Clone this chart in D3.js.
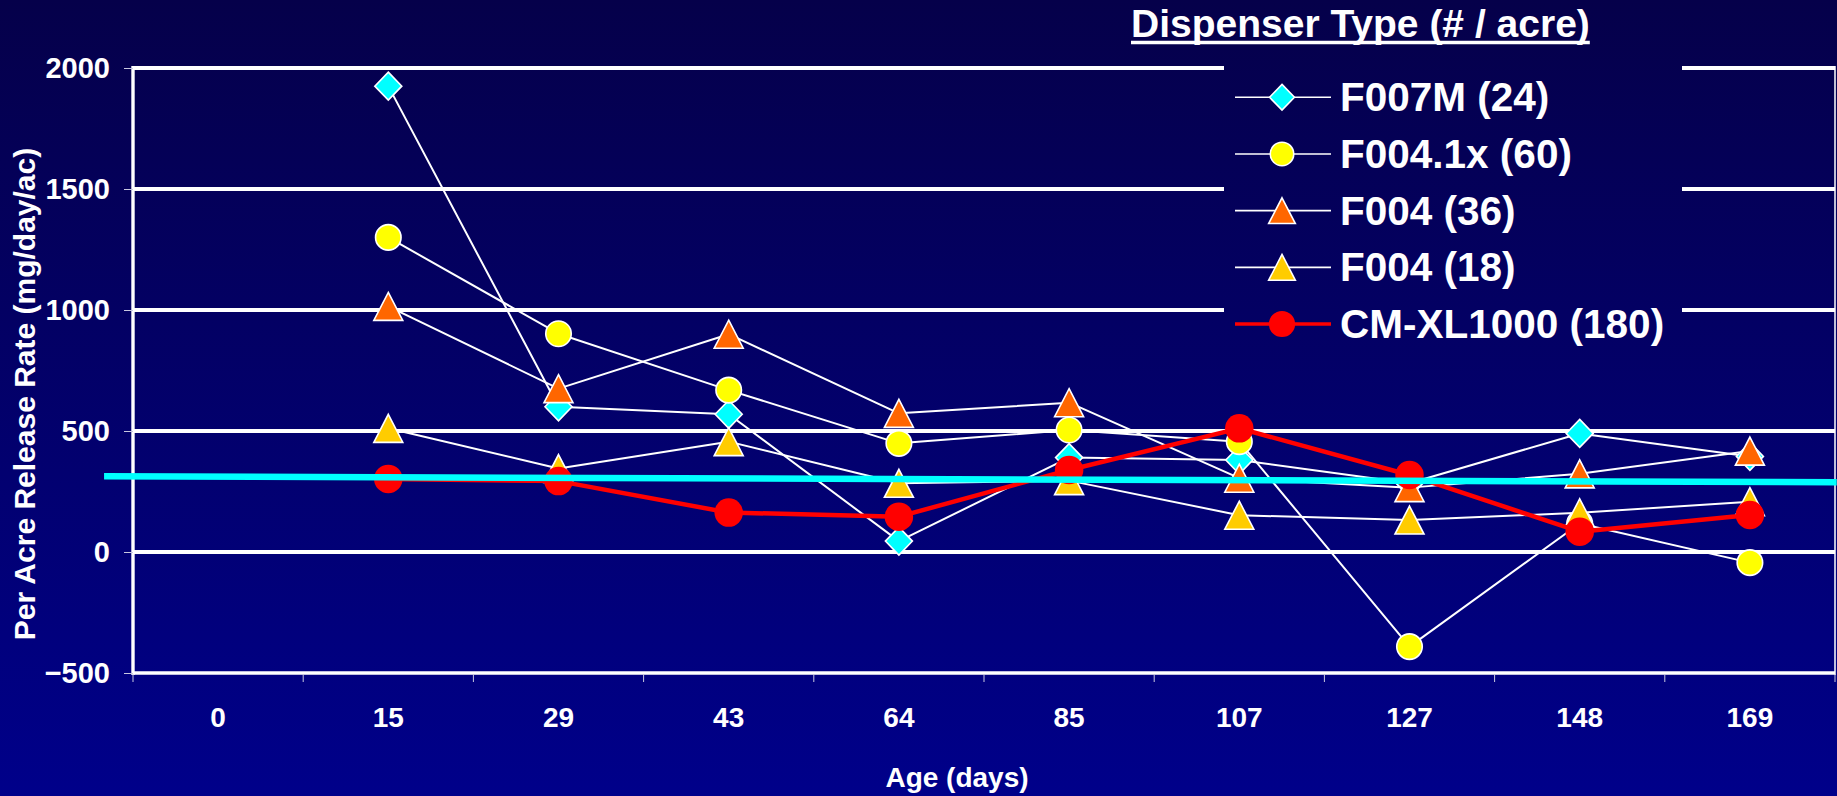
<!DOCTYPE html>
<html>
<head>
<meta charset="utf-8">
<script src="https://cdn.jsdelivr.net/npm/d3@7"></script>
<style>
  html, body { margin: 0; padding: 0; background: #020066; }
  svg { display: block; }
  text { font-family: "Liberation Sans", Arial, sans-serif; font-weight: bold; fill: #ffffff; }
</style>
</head>
<body>
<svg id="chart" width="1837" height="796"></svg>
<script>
// ---- data -------------------------------------------------------------
const categories = ["0", "15", "29", "43", "64", "85", "107", "127", "148", "169"];
const seriesNames = ["F007M (24)", "F004.1x (60)", "F004 (36)", "F004 (18)", "CM-XL1000 (180)"];
const f007m    = [null, 1925, 600, 569,  45, 390, 380,  284, 490, 395];
const f0041x   = [null, 1300, 902, 669, 449, 504, 456, -391, 118, -44];
const f004_36  = [null, 1015, 675, 900, 573, 617, 305,  266, 323, 417];
const f004_18  = [null,  511, 345, 456, 284, 295, 152,  132, 162, 208];
const cmxl1000 = [null,  302, 293, 163, 146, 339, 511,  318,  84, 153];
const yTicks = [-500, 0, 500, 1000, 1500, 2000];
// straight reference line, given in category units (0 = left edge of first category)
const refLinePos = [-0.17, 10.01];
const refLineVal = [313, 288];

const legendTitle = "Dispenser Type (# / acre)";
const xTitle = "Age (days)";
const yTitle = "Per Acre Release Rate (mg/day/ac)";

// ---- layout -----------------------------------------------------------
const W = 1837, H = 796;
const plot = { left: 133, right: 1835, top: 68, bottom: 673 };

const svg = d3.select("#chart");
const defs = svg.append("defs");
const grad = defs.append("linearGradient")
  .attr("id", "bg").attr("gradientUnits", "userSpaceOnUse")
  .attr("x1", 0).attr("y1", 0).attr("x2", 0).attr("y2", H);
grad.append("stop").attr("offset", "0%").attr("stop-color", "#05004a");
grad.append("stop").attr("offset", "100%").attr("stop-color", "#00008a");

svg.append("rect").attr("width", W).attr("height", H).attr("fill", "url(#bg)");

const x = d3.scaleBand().domain(categories).range([plot.left, plot.right]).padding(0);
const xPos = d3.scaleLinear().domain([0, categories.length]).range([plot.left, plot.right]);
const y = d3.scaleLinear().domain([-500, 2000]).range([plot.bottom, plot.top]);

// ---- grid & axes ------------------------------------------------------
svg.append("g").selectAll("line")
  .data(yTicks)
  .join("line")
  .attr("x1", plot.left).attr("x2", plot.right)
  .attr("y1", d => y(d)).attr("y2", d => y(d))
  .attr("stroke", "#ffffff").attr("stroke-width", d => d === -500 ? 3.5 : 4);

// right frame edge
svg.append("line")
  .attr("x1", plot.right).attr("x2", plot.right)
  .attr("y1", y(2000) - 2).attr("y2", y(-500) + 2)
  .attr("stroke", "#ffffff").attr("stroke-width", 1.5);

// y axis
const yAxis = svg.append("g")
  .attr("transform", `translate(${plot.left},0)`)
  .call(d3.axisLeft(y).tickValues(yTicks).tickSize(9).tickPadding(14).tickFormat(d3.format("d")));
yAxis.select(".domain").attr("stroke", "#ffffff").attr("stroke-width", 3.4)
  .attr("d", `M0,${y(2000) - 2}V${y(-500) + 2}`);
yAxis.selectAll(".tick line").attr("stroke", "#c8c8e0").attr("stroke-width", 1);
yAxis.selectAll(".tick text").attr("font-size", 29).attr("fill", "#ffffff")
  .attr("font-family", "'Liberation Sans', Arial, sans-serif").attr("font-weight", "bold");

// x axis: ticks between categories, labels at category centres
svg.append("g").selectAll("line")
  .data(d3.range(categories.length + 1))
  .join("line")
  .attr("x1", d => xPos(d)).attr("x2", d => xPos(d))
  .attr("y1", plot.bottom + 1).attr("y2", plot.bottom + 9)
  .attr("stroke", "#c8c8e0").attr("stroke-width", 1);

const xAxis = svg.append("g")
  .attr("transform", `translate(0,${plot.bottom})`)
  .call(d3.axisBottom(x).tickSize(0).tickPadding(0));
xAxis.select(".domain").remove();
xAxis.selectAll(".tick text")
  .attr("y", 54).attr("dy", 0)
  .attr("font-size", 28).attr("fill", "#ffffff")
  .attr("font-family", "'Liberation Sans', Arial, sans-serif").attr("font-weight", "bold");

svg.append("text").attr("x", 957).attr("y", 787)
  .attr("text-anchor", "middle").attr("font-size", 28).text(xTitle);

svg.append("text")
  .attr("transform", "translate(35,394) rotate(-90)")
  .attr("text-anchor", "middle").attr("font-size", 30).text(yTitle);

// ---- series -----------------------------------------------------------
const shapes = {
  diamond: (w, h) => `M0,${-h / 2}L${w / 2},0L0,${h / 2}L${-w / 2},0Z`,
  triangle: (w, h) => `M0,${-h / 2}L${w / 2},${h / 2}L${-w / 2},${h / 2}Z`
};

const series = [
  { name: seriesNames[0], values: f007m,    shape: "diamond",  fill: "#00ffff", mstroke: "#ffffff", line: "#ffffff", lw: 2,   size: [27, 28] },
  { name: seriesNames[1], values: f0041x,   shape: "circle",   fill: "#ffff00", mstroke: "#ffffff", line: "#ffffff", lw: 2,   size: [25.5, 25.5] },
  { name: seriesNames[2], values: f004_36,  shape: "triangle", fill: "#ff6600", mstroke: "#ffffff", line: "#ffffff", lw: 2,   size: [29, 28] },
  { name: seriesNames[3], values: f004_18,  shape: "triangle", fill: "#ffcc00", mstroke: "#ffffff", line: "#ffffff", lw: 2,   size: [29, 28] },
  { name: seriesNames[4], values: cmxl1000, shape: "circle",   fill: "#ff0000", mstroke: "none",    line: "#ff0000", lw: 4.5, size: [28.5, 28.5] }
];

function drawMarker(sel, s, scale) {
  const [w, h] = s.size.map(v => v * scale);
  if (s.shape === "circle") {
    sel.append("ellipse").attr("rx", w / 2).attr("ry", h / 2)
      .attr("fill", s.fill).attr("stroke", s.mstroke).attr("stroke-width", 1.6);
  } else {
    sel.append("path").attr("d", shapes[s.shape](w, h))
      .attr("fill", s.fill).attr("stroke", s.mstroke).attr("stroke-width", 1.6)
      .attr("stroke-linejoin", "miter");
  }
}

const lineGen = d3.line()
  .defined(d => d.v !== null)
  .x(d => x(d.c) + x.bandwidth() / 2)
  .y(d => y(d.v));

series.forEach(s => {
  const pts = categories.map((c, i) => ({ c, v: s.values[i] }));
  const g = svg.append("g");
  g.append("path").datum(pts)
    .attr("d", lineGen)
    .attr("fill", "none").attr("stroke", s.line).attr("stroke-width", s.lw)
    .attr("stroke-linejoin", "round");
  g.selectAll("g.m")
    .data(pts.filter(d => d.v !== null))
    .join("g").attr("class", "m")
    .attr("transform", d => `translate(${x(d.c) + x.bandwidth() / 2},${y(d.v)})`)
    .each(function () { drawMarker(d3.select(this), s, 1); });
});

// reference line
svg.append("line")
  .attr("x1", xPos(refLinePos[0])).attr("y1", y(refLineVal[0]))
  .attr("x2", xPos(refLinePos[1])).attr("y2", y(refLineVal[1]))
  .attr("stroke", "#00ffff").attr("stroke-width", 6.5);

// ---- legend -----------------------------------------------------------
const leg = { x0: 1224, x1: 1682, top: 50, bottom: 350 };
svg.append("rect")
  .attr("x", leg.x0).attr("y", leg.top)
  .attr("width", leg.x1 - leg.x0).attr("height", leg.bottom - leg.top)
  .attr("fill", "url(#bg)");

const lt = svg.append("text").attr("x", 1131).attr("y", 36.5)
  .attr("font-size", 39).text(legendTitle);
const ltw = lt.node().getComputedTextLength();
svg.append("line")
  .attr("x1", 1131).attr("x2", 1131 + ltw)
  .attr("y1", 42.5).attr("y2", 42.5)
  .attr("stroke", "#ffffff").attr("stroke-width", 3.4);

const rowY = d3.scaleLinear().domain([0, 4]).range([97.3, 324]);
series.forEach((s, i) => {
  const g = svg.append("g").attr("transform", `translate(0,${rowY(i)})`);
  g.append("line").attr("x1", 1235).attr("x2", 1331)
    .attr("stroke", s.line).attr("stroke-width", s.lw === 2 ? 1.6 : 3.6);
  const m = g.append("g").attr("transform", "translate(1282,0)");
  drawMarker(m, s, 0.92);
  g.append("text").attr("x", 1340).attr("y", 14)
    .attr("font-size", 40.5).text(s.name);
});
</script>
</body>
</html>
